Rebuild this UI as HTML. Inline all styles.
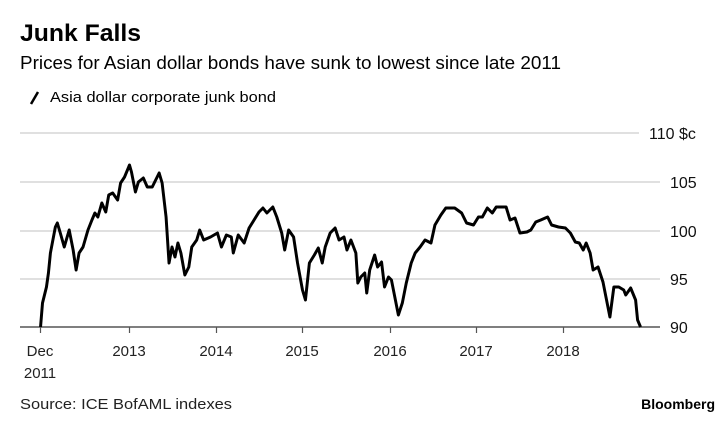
<!DOCTYPE html>
<html><head><meta charset="utf-8"><style>
body{margin:0;background:#fff;width:724px;height:422px;overflow:hidden;font-family:"Liberation Sans",sans-serif;}
</style></head><body>
<svg width="724" height="422" xmlns="http://www.w3.org/2000/svg" font-family="Liberation Sans, sans-serif">
<text x="20" y="41" font-size="24" font-weight="bold" fill="#000" textLength="121" lengthAdjust="spacingAndGlyphs">Junk Falls</text>
<text x="20" y="69" font-size="18" fill="#000" textLength="541" lengthAdjust="spacingAndGlyphs">Prices for Asian dollar bonds have sunk to lowest since late 2011</text>
<line x1="31" y1="104" x2="38" y2="92" stroke="#000" stroke-width="2.5"/>
<text x="50" y="102" font-size="15" fill="#000" textLength="226" lengthAdjust="spacingAndGlyphs">Asia dollar corporate junk bond</text>
<g stroke="#e0e0e0" stroke-width="2">
<line x1="20" y1="133" x2="639" y2="133"/>
<line x1="20" y1="182" x2="660" y2="182"/>
<line x1="20" y1="231" x2="660" y2="231"/>
<line x1="20" y1="279" x2="660" y2="279"/>
</g>
<line x1="20" y1="327" x2="660" y2="327" stroke="#555" stroke-width="1.5"/>
<g stroke="#555" stroke-width="1.2">
<line x1="40.5" y1="327" x2="40.5" y2="333"/><line x1="129.5" y1="327" x2="129.5" y2="333"/><line x1="216.5" y1="327" x2="216.5" y2="333"/><line x1="302.5" y1="327" x2="302.5" y2="333"/><line x1="390.5" y1="327" x2="390.5" y2="333"/><line x1="476.5" y1="327" x2="476.5" y2="333"/><line x1="563.5" y1="327" x2="563.5" y2="333"/>
</g>
<g font-size="16" fill="#111">
<text x="649" y="139">110 $c</text>
<text x="670" y="188">105</text>
<text x="670" y="237">100</text>
<text x="670" y="285">95</text>
<text x="670" y="333">90</text>
</g>
<g font-size="15" fill="#222" text-anchor="middle">
<text x="40" y="356">Dec</text><text x="40" y="378">2011</text>
<text x="129" y="356">2013</text><text x="216" y="356">2014</text><text x="302" y="356">2015</text><text x="390" y="356">2016</text><text x="476" y="356">2017</text><text x="563" y="356">2018</text>
</g>
<polyline transform="scale(0.9885,1)" fill="none" stroke="#000" stroke-width="3" stroke-linejoin="round" points="41,327 43,303 47,287 49,273 51,253 56,227 58,223 61,233 65,247 70,230 74,250 77,270 80,253 84,247 89,230 93,220 96,213 99,217 103,203 107,212 110,195 114,193 119,200 122,183 126,177 131,165 133,172 137,192 140,182 145,178 149,187 154,187 161,173 164,183 168,217 171,263 174,247 177,257 180,243 183,253 187,275 191,267 194,247 199,240 202,230 206,240 213,237 220,233 224,247 229,235 234,237 236,253 241,235 247,243 252,228 257,220 262,212 266,208 270,213 276,207 280,217 285,233 288,250 292,230 297,237 301,263 306,290 309,300 313,263 318,255 322,248 326,263 329,247 334,233 339,228 343,240 348,237 351,250 355,240 360,253 362,283 365,277 369,273 371,293 374,270 379,255 382,267 386,262 389,287 393,277 396,280 400,300 403,315 407,303 411,283 416,263 420,253 425,247 430,240 436,243 440,225 446,215 451,208 460,208 467,213 472,223 479,225 484,217 488,217 493,208 498,213 502,207 512,207 516,220 521,218 526,233 533,232 537,230 542,222 547,220 554,217 558,225 565,227 572,228 577,233 582,242 586,243 590,250 593,243 597,253 600,270 605,267 610,282 613,297 617,317 621,287 626,287 631,290 633,295 638,288 643,300 645,320 648,327"/>
<text x="20" y="409" font-size="15" fill="#222" textLength="212" lengthAdjust="spacingAndGlyphs">Source: ICE BofAML indexes</text>
<text x="715" y="409" font-size="14" font-weight="bold" fill="#000" text-anchor="end">Bloomberg</text>
</svg>
</body></html>
